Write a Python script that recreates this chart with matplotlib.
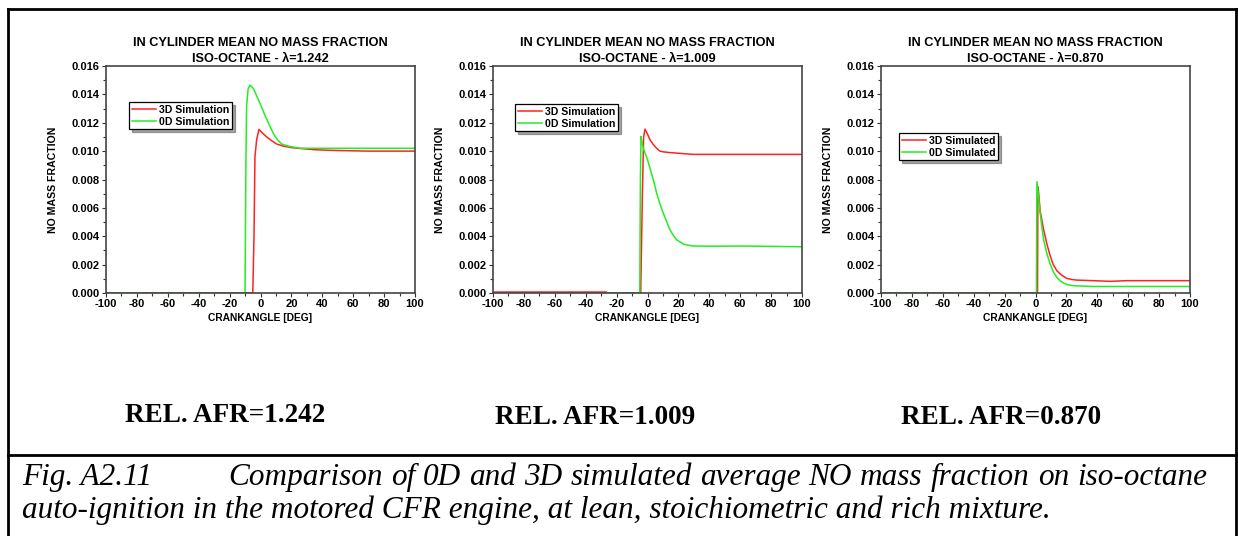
"""NO mass fraction: 0D vs 3D simulation, three mixtures (iso-octane, CFR engine)."""

import matplotlib

matplotlib.use("Agg")
import matplotlib.pyplot as plt
from matplotlib.lines import Line2D
from matplotlib.ticker import MultipleLocator

plt.rcParams["font.family"] = ["Liberation Sans", "DejaVu Sans"]
plt.rcParams["axes.unicode_minus"] = False

RED = "#ff2222"
GREEN = "#22ee22"

# lambda = 1.242 (lean)
x3d_lean = [-100, -5.0, -4.2, -3.6, -2.5, -1.0, 1.5, 4.0, 7.0, 10.5, 14.8, 20, 25.6, 35, 47, 70, 100]
y3d_lean = [0, 0, 0.0040, 0.0096, 0.0108, 0.01153, 0.01125, 0.0110, 0.01075, 0.0105, 0.01035,
            0.01025, 0.01019, 0.0101, 0.01005, 0.0100, 0.0100]
x0d_lean = [-100, -10.0, -9.5, -9.0, -8.0, -6.8, -4.5, -2.5, -0.3, 3, 5.5, 8.3, 11, 13.7, 18,
            25.6, 40, 100]
y0d_lean = [0, 0, 0.0085, 0.0132, 0.0144, 0.01466, 0.0144, 0.0139, 0.01336, 0.0125, 0.0119,
            0.01125, 0.0108, 0.0105, 0.01035, 0.0102, 0.0102, 0.0102]

# lambda = 1.009 (stoichiometric)
x3d_stoich = [-100, -26.5, -26.5, -4.4, -3.3, -2.5, -1.6, 0, 1.6, 3.5, 5.9, 8, 10.2, 14, 18.8,
              29.6, 60, 100]
y3d_stoich = [0.00007, 0.00007, 0, 0, 0.0070, 0.0110, 0.01155, 0.0112, 0.0108, 0.0105, 0.0102,
              0.0100, 0.00995, 0.0099, 0.00986, 0.00977, 0.00977, 0.00977]
x0d_stoich = [-27, -5.0, -4.6, -4.2, -3.5, -2.7, 0, 1.6, 4, 5.9, 8, 10.2, 12.5, 14.5, 16.5, 18.8,
              21, 23.1, 26, 29.6, 45, 62, 100]
y0d_stoich = [0, 0, 0.0080, 0.01103, 0.0106, 0.0102, 0.0094, 0.0088, 0.0079, 0.00705, 0.0063,
              0.00563, 0.0050, 0.00446, 0.0041, 0.00376, 0.0036, 0.00345, 0.00338, 0.00331,
              0.0033, 0.00331, 0.00326]

# lambda = 0.870 (rich)
x3d_rich = [-100, 1.3, 1.5, 1.7, 3, 5.2, 7.5, 9.5, 11.5, 13.8, 17, 20.3, 23.5, 26.7, 37.5, 48.3,
            59, 100]
y3d_rich = [0, 0, 0.006, 0.00749, 0.0058, 0.00449, 0.0034, 0.00262, 0.0020, 0.00157, 0.00125,
            0.00103, 0.00095, 0.00091, 0.00087, 0.00082, 0.00087, 0.00087]
x0d_rich = [-100, 0.6, 0.8, 0.9, 2.0, 3.0, 4.2, 5.2, 7.3, 9.5, 11.6, 13.8, 16, 18.1, 21, 24.6,
            37.5, 100]
y0d_rich = [0, 0, 0.006, 0.00784, 0.0068, 0.00566, 0.0046, 0.00379, 0.0028, 0.00204, 0.00148,
            0.0011, 0.00085, 0.0007, 0.00058, 0.00051, 0.00046, 0.00046]

lambdas = ["1.242", "1.009", "0.870"]
legend_names = [("3D Simulation", "0D Simulation"),
                ("3D Simulation", "0D Simulation"),
                ("3D Simulated", "0D Simulated")]
series = [(x3d_lean, y3d_lean, x0d_lean, y0d_lean),
          (x3d_stoich, y3d_stoich, x0d_stoich, y0d_stoich),
          (x3d_rich, y3d_rich, x0d_rich, y0d_rich)]

caption_1 = "Comparison of 0D and 3D simulated average NO mass fraction on iso-octane"
caption_2 = "auto-ignition in the motored CFR engine, at lean, stoichiometric and rich mixture."

W, H = 1238, 536
fig = plt.figure(figsize=(W / 100, H / 100), dpi=100)

# axes boxes in pixels: left, right ; shared top/bottom
boxes = [(106, 415), (493, 802), (881, 1190)]
top, bottom = 66, 293
legend_anchor = [(0.074, 0.841), (0.071, 0.833), (0.058, 0.705)]
afr_pos = [(225, 416), (595, 418), (1001, 418)]

for i, ((l, r), lam, names, (x3, y3, x0, y0)) in enumerate(zip(boxes, lambdas, legend_names, series)):
    ax = fig.add_axes([l / W, 1 - bottom / H, (r - l) / W, (bottom - top) / H])
    ax.plot(x3, y3, color=RED, lw=1.1, label=names[0])
    ax.plot(x0, y0, color=GREEN, lw=1.1, label=names[1])
    ax.set_xlim(-100, 100)
    ax.set_ylim(0, 0.016)
    ax.xaxis.set_major_locator(MultipleLocator(20))
    ax.xaxis.set_minor_locator(MultipleLocator(10))
    ax.yaxis.set_major_locator(MultipleLocator(0.002))
    ax.yaxis.set_minor_locator(MultipleLocator(0.001))
    ax.yaxis.set_major_formatter(lambda v, p: f"{v:.3f}")
    ax.tick_params(which="both", direction="out", top=False, right=False,
                   labelsize=8, width=0.8, color="#333333", pad=1.5)
    ax.tick_params(which="major", length=3)
    ax.tick_params(which="minor", length=2)
    for lab in ax.get_xticklabels() + ax.get_yticklabels():
        lab.set_fontweight("bold")
    for sp in ax.spines.values():
        sp.set_color("#444444")
        sp.set_linewidth(1.2)
    ax.set_xlabel("CRANKANGLE [DEG]", fontsize=7.4, fontweight="bold", labelpad=2.5)
    ax.set_ylabel("NO MASS FRACTION", fontsize=7.6, fontweight="bold", labelpad=10)
    ax.set_title(f"IN CYLINDER MEAN NO MASS FRACTION\nISO-OCTANE - \u03bb={lam}",
                 fontsize=9.2, fontweight="bold", pad=3.2, linespacing=1.4)
    leg = ax.legend(loc="upper left", bbox_to_anchor=legend_anchor[i], borderaxespad=0,
                    fancybox=False, shadow=True, edgecolor="black", framealpha=1,
                    prop={"size": 7.6, "weight": "bold"}, handlelength=2.3,
                    handletextpad=0.3, borderpad=0.25, labelspacing=0.2)
    leg.get_frame().set_linewidth(0.9)

# REL. AFR labels under each plot
for (cx, cy), lam in zip(afr_pos, lambdas):
    fig.text(cx / W, 1 - cy / H, f"REL. AFR={lam}", family="Liberation Serif",
             fontweight="bold", fontsize=19.5, ha="center", va="center")

# outer frame and divider
frame_kw = dict(color="black", lw=2, transform=fig.transFigure)
fig.add_artist(Line2D([8 / W, 8 / W], [0, 1 - 9 / H], **frame_kw))
fig.add_artist(Line2D([1236 / W, 1236 / W], [0, 1 - 9 / H], **frame_kw))
fig.add_artist(Line2D([8 / W, 1236 / W], [1 - 9 / H, 1 - 9 / H], **frame_kw))
fig.add_artist(Line2D([8 / W, 1236 / W], [1 - 455 / H, 1 - 455 / H], **frame_kw))

# caption: first line justified between x=228 and x=1207
cap_kw = dict(family="Liberation Serif", fontstyle="italic", fontsize=22.5, va="baseline")
fig.text(22 / W, 1 - 485 / H, "Fig. A2.11", **cap_kw)
words = [fig.text(0, 1 - 485 / H, w, **cap_kw) for w in caption_1.split()]
renderer = fig.canvas.get_renderer()
widths = [t.get_window_extent(renderer).width for t in words]
gap = (1207 - 228 - sum(widths)) / (len(words) - 1)
x = 228
for t, w in zip(words, widths):
    t.set_x(x / W)
    x += w + gap
fig.text(22 / W, 1 - 518 / H, caption_2, **cap_kw)

fig.savefig("out.png", dpi=100)
